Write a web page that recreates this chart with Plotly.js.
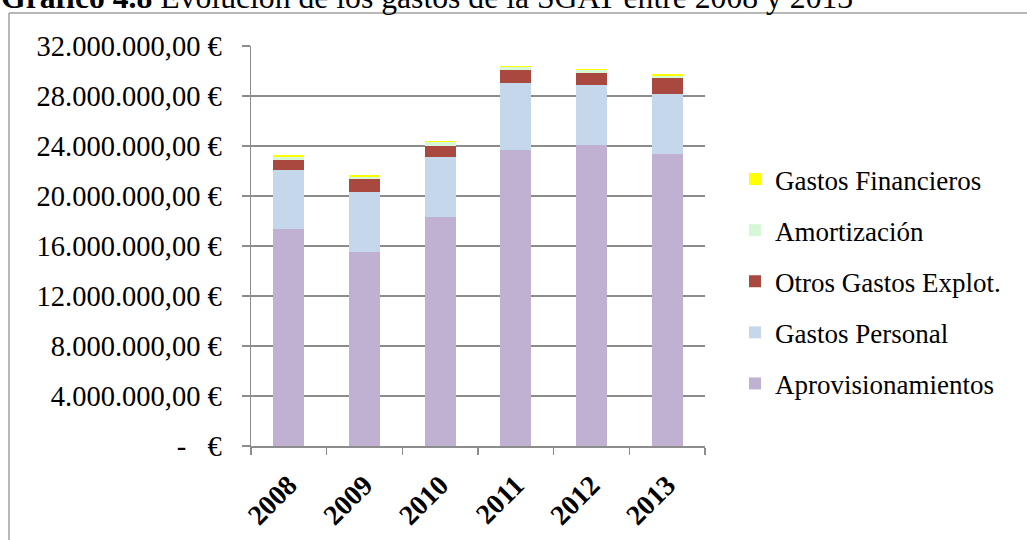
<!DOCTYPE html>
<html>
<head>
<meta charset="utf-8">
<script src="https://cdn.plot.ly/plotly-3.0.1.min.js"></script>
<style>html,body{margin:0;padding:0;background:#fff;}#chart{width:1027px;height:540px;}</style>
</head>
<body>
<div id="chart"></div>
<script>
const years = ['2008', '2009', '2010', '2011', '2012', '2013'];
const aprovisionamientos = [17380000, 15550000, 18320000, 23680000, 24080000, 23360000];
const gastosPersonal = [4680000, 4750000, 4800000, 5330000, 4830000, 4830000];
const otrosGastosExplot = [850000, 1030000, 910000, 1070000, 960000, 1220000];
const amortizacion = [200000, 170000, 270000, 240000, 210000, 210000];
const gastosFinancieros = [160000, 150000, 100000, 110000, 80000, 170000];
const seriesNames = ['Aprovisionamientos', 'Gastos Personal', 'Otros Gastos Explot.', 'Amortización', 'Gastos Financieros'];
const seriesColors = ['#c0b1d3', '#c5d7eb', '#a8483f', '#d6f8d6', '#ffff00'];
const tickValues = [0, 4000000, 8000000, 12000000, 16000000, 20000000, 24000000, 28000000, 32000000];
const tickLabels = ['-\u00a0\u00a0\u00a0€', '4.000.000,00 €', '8.000.000,00 €', '12.000.000,00 €', '16.000.000,00 €', '20.000.000,00 €', '24.000.000,00 €', '28.000.000,00 €', '32.000.000,00 €'];
const titleBold = 'Gráfico 4.8';
const titleRest = 'Evolución de los gastos de la SGAT entre 2008 y 2013';

const allSeries = [aprovisionamientos, gastosPersonal, otrosGastosExplot, amortizacion, gastosFinancieros];
const serif = 'Liberation Serif, Times New Roman, serif';

const traces = allSeries.map((vals, i) => ({
  type: 'bar',
  x: years,
  y: vals,
  name: seriesNames[i],
  legendgroup: 'g' + i,
  legendrank: allSeries.length - i,
  marker: {color: seriesColors[i], line: {width: 0}},
  hoverinfo: 'skip'
}));

const L = 251, R = 705, T = 46, B = 446;
const pw = R - L, ph = B - T;
const px = v => (v - L) / pw;
const py = v => (B - v) / ph;

const layout = {
  width: 1027, height: 540,
  margin: {l: L, r: 1027 - R, t: T, b: 540 - B},
  paper_bgcolor: '#ffffff', plot_bgcolor: '#ffffff',
  barmode: 'stack',
  bargap: 0.59,
  showlegend: true,
  legend: {
    x: px(735), y: py(155), xanchor: 'left', yanchor: 'top',
    traceorder: 'grouped', tracegroupgap: 13,
    font: {family: serif, size: 27, color: '#000'},
    bgcolor: 'rgba(0,0,0,0)'
  },
  font: {family: serif, color: '#000'},
  xaxis: {
    type: 'category',
    tickangle: -45,
    tickfont: {family: serif, size: 28, color: '#000', weight: 'bold'},
    ticks: 'outside', ticklen: 7, tickcolor: '#8c8c8c', tickwidth: 1.5,
    tickson: 'boundaries',
    ticklabelstandoff: 10,
    showline: true, linecolor: '#8c8c8c', linewidth: 1.5,
    showgrid: false, fixedrange: true
  },
  yaxis: {
    range: [0, 32000000],
    tickvals: tickValues, ticktext: tickLabels,
    tickfont: {family: serif, size: 28.5, color: '#000'},
    ticks: 'outside', ticklen: 8, tickcolor: '#8c8c8c', tickwidth: 1.5,
    ticklabelstandoff: 14,
    showline: true, linecolor: '#8c8c8c', linewidth: 1.5,
    showgrid: true, gridcolor: '#8c8c8c', gridwidth: 1.5,
    zeroline: false, fixedrange: true
  },
  annotations: [{
    xref: 'paper', yref: 'paper',
    x: px(-1), y: py(-2), xanchor: 'left', yanchor: 'middle',
    text: '<b>' + titleBold + '</b> ' + titleRest,
    showarrow: false,
    font: {family: serif, size: 31.7, color: '#000'}
  }],
  shapes: [
    {type: 'line', xref: 'paper', yref: 'paper', x0: px(9), x1: px(1027), y0: py(13), y1: py(13), line: {color: '#a0a0a0', width: 1.5}},
    {type: 'line', xref: 'paper', yref: 'paper', x0: px(9), x1: px(9), y0: py(13), y1: py(540), line: {color: '#a0a0a0', width: 1.5}}
  ]
};

Plotly.newPlot('chart', traces, layout, {displayModeBar: false, staticPlot: true});
</script>
</body>
</html>
